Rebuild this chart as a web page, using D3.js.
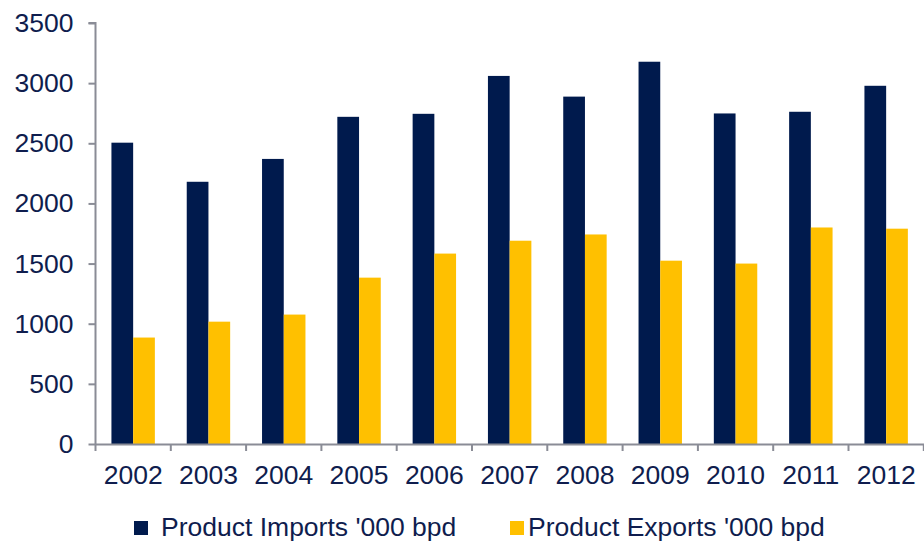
<!DOCTYPE html>
<html>
<head>
<meta charset="utf-8">
<script src="https://cdn.jsdelivr.net/npm/d3@7"></script>
<style>
  body { margin: 0; background: #fff; }
  #chart { width: 924px; height: 542px; }
  text { font-family: "Liberation Sans", Arial, sans-serif; fill: #0f1d4e; }
</style>
</head>
<body>
<div id="chart"></div>
<script>
// Years on the x axis
const years = ["2002", "2003", "2004", "2005", "2006", "2007", "2008", "2009", "2010", "2011", "2012"];

// Series values, '000 bpd
const imports = [2505, 2180, 2370, 2720, 2745, 3060, 2888, 3178, 2748, 2762, 2978];
const exports = [885, 1017, 1076, 1383, 1583, 1690, 1742, 1524, 1500, 1800, 1790];

const seriesNames = ["Product Imports '000 bpd", "Product Exports '000 bpd"];
const yTicks = [0, 500, 1000, 1500, 2000, 2500, 3000, 3500];

const width = 924, height = 542;
const margin = {top: 23, right: 0, bottom: 98, left: 95.5};
const colors = ["#001a4d", "#ffc000"];
const fontSize = 26.5;

const svg = d3.select("#chart").append("svg")
    .attr("width", width)
    .attr("height", height);

const x = d3.scaleBand()
    .domain(years)
    .range([margin.left, margin.left + 75.3 * years.length])
    .paddingInner(0).paddingOuter(0);

const inner = d3.scaleBand()
    .domain([0, 1])
    .range([0, x.bandwidth()])
    .paddingOuter(0.367 * 2)
    .paddingInner(0);

const y = d3.scaleLinear()
    .domain([0, 3500])
    .range([height - margin.bottom, margin.top]);

// bars
const rows = years.map((yr, i) => ({year: yr, vals: [imports[i], exports[i]]}));

const grp = svg.append("g").selectAll("g")
  .data(rows)
  .enter().append("g")
  .attr("transform", d => `translate(${x(d.year)},0)`);

grp.selectAll("rect")
  .data(d => d.vals)
  .enter().append("rect")
  .attr("x", (d, i) => inner(i))
  .attr("width", inner.bandwidth())
  .attr("y", d => y(d))
  .attr("height", d => y(0) - y(d))
  .attr("fill", (d, i) => colors[i]);

// y axis
const yAxis = svg.append("g")
  .attr("transform", `translate(${margin.left},0)`)
  .call(d3.axisLeft(y).tickValues(yTicks).tickSize(7).tickPadding(15).tickFormat(d3.format("d")));

// x axis, ticks at band edges
const xAxis = svg.append("g")
  .attr("transform", `translate(0,${y(0)})`)
  .call(d3.axisBottom(x).tickSize(0).tickPadding(21));

xAxis.selectAll(".edge")
  .data(years.map(yr => x(yr)).concat([x.range()[1]]))
  .enter().append("line")
  .attr("x1", d => d).attr("x2", d => d)
  .attr("y1", 0).attr("y2", 7)
  .attr("stroke", "#8a8c96").attr("stroke-width", 2);

[yAxis, xAxis].forEach(a => {
  a.select(".domain").attr("stroke", "#8a8c96").attr("stroke-width", 2);
  a.selectAll(".tick line").attr("stroke", "#8a8c96").attr("stroke-width", 2);
  a.selectAll("text").attr("font-size", fontSize).attr("font-family", "Liberation Sans, Arial, sans-serif").attr("fill", "#0f1d4e");
});
yAxis.select(".domain").attr("d", `M-7,${y(3500)}H0V${y(0)}`);

// legend (kept just inside the bottom edge)
const legend = svg.append("g");
const legX = [134, 510];
seriesNames.forEach((name, i) => {
  legend.append("rect")
    .attr("x", legX[i]).attr("y", 521)
    .attr("width", 14).attr("height", 14)
    .attr("fill", colors[i]);
  legend.append("text")
    .attr("x", legX[i] + (i === 0 ? 27 : 18)).attr("y", 535.5)
    .attr("font-size", fontSize)
    .text(name);
});
</script>
</body>
</html>
